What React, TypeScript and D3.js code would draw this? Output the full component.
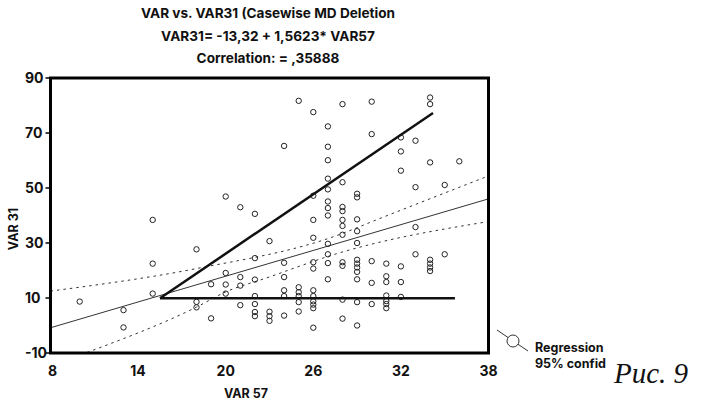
import React from "react";
import * as d3 from "d3";

// scatter points: [VAR57, VAR31]
const points: [number, number][] = [
  [10, 8.7], [13, 5.6], [13, -0.7],
  [15, 38.4], [15, 22.5], [15, 11.6],
  [18, 27.7], [18, 8.6], [18, 6.6],
  [19, 15], [19, 2.6],
  [20, 46.9], [20, 19.1], [20, 14.9], [20, 11.6],
  [21, 43.0], [21, 17.6], [21, 14.5], [21, 7.4],
  [22, 40.6], [22, 24.5], [22, 16.7], [22, 10.7], [22, 7.8], [22, 4.9], [22, 3.4],
  [23, 30.7], [23, 5.0], [23, 3.4], [23, 1.7],
  [24, 65.3], [24, 22.8], [24, 17.6], [24, 12.8], [24, 10.7], [24, 3.6],
  [25, 81.7], [25, 13.9], [25, 12.1], [25, 10.7], [25, 8.5], [25, 5.1],
  [26, 77.6], [26, 47.2], [26, 38.4], [26, 31.9], [26, 23.0], [26, 20.7], [26, 12.8],
  [26, 10.7], [26, 8.8], [26, 7.6], [26, 6.3], [26, -0.8],
  [27, 72.4], [27, 65.0], [27, 60.1], [27, 53.4], [27, 49.5], [27, 45.1], [27, 42.7],
  [27, 40.0], [27, 29.7], [27, 25.9], [27, 22.7], [27, 16.8],
  [28, 80.5], [28, 52.1], [28, 43.1], [28, 41.6], [28, 38.4], [28, 36.2], [28, 33.0],
  [28, 23.0], [28, 21.7], [28, 9.4], [28, 2.5],
  [29, 47.9], [29, 46.6], [29, 38.6], [29, 34.3], [29, 30.0], [29, 23.9], [29, 22.5],
  [29, 21.1], [29, 19.5], [29, 16.8], [29, 8.5], [29, 0.0],
  [30, 81.4], [30, 69.6], [30, 23.4], [30, 15.5], [30, 7.8],
  [31, 22.5], [31, 17.9], [31, 15.8], [31, 10.9], [31, 8.9], [31, 7.8], [31, 6.3],
  [32, 68.4], [32, 63.3], [32, 56.3], [32, 21.5], [32, 15.8], [32, 10.4],
  [33, 67.2], [33, 50.3], [33, 35.8], [33, 25.9],
  [34, 82.9], [34, 80.5], [34, 59.3], [34, 23.9], [34, 22.5], [34, 21.1], [34, 19.8],
  [35, 51.1], [35, 25.9],
  [36, 59.7],
];

// regression line VAR31 = -13,32 + 1,5623 * VAR57 (end points)
const regression: [number, number][] = [[8, -0.82], [38, 46.05]];

// 95% confidence bands
const upperBand: [number, number][] = [
  [8, 12.5], [18, 20.7], [27.6, 32.7], [30.5, 38.8], [38, 54.4],
];
const lowerBand: [number, number][] = [
  [10.5, -9.8], [18, 6.7], [20, 12.2], [22.8, 17.3], [27.6, 26.1], [38, 37.8],
];

// the two heavy hand-drawn strokes
const strokeUp: [number, number][] = [[15.5, 9.9], [34.2, 77.3]];
const strokeFlat: [number, number][] = [[15.5, 9.9], [35.7, 9.9]];

const xTicks = [8, 14, 20, 26, 32, 38];
const yTicks = [-10, 10, 30, 50, 70, 90];

const titleLines = [
  "VAR vs. VAR31 (Casewise MD Deletion",
  "VAR31= -13,32 + 1,5623* VAR57",
  "Correlation: = ,35888",
];

const W = 701;
const H = 403;
const font = "Inter, Roboto, 'Liberation Sans', sans-serif";

export default function App() {
  const x = d3.scaleLinear().domain([8, 38]).range([50.5, 488.5]);
  const y = d3.scaleLinear().domain([-10, 90]).range([353, 78]);

  const line = d3
    .line<[number, number]>()
    .x((d) => x(d[0]))
    .y((d) => y(d[1]));
  const curve = d3
    .line<[number, number]>()
    .x((d) => x(d[0]))
    .y((d) => y(d[1]))
    .curve(d3.curveMonotoneX);

  const [x0, x1] = x.range();
  const [y0, y1] = y.range();

  return (
    <div style={{ position: "absolute", left: 0, top: 0 }}>
      <svg width={W} height={H} style={{ display: "block", background: "#fff" }}>
        <defs>
          <clipPath id="plot">
            <rect x={x0} y={y1} width={x1 - x0} height={y0 - y1} />
          </clipPath>
        </defs>

        {titleLines.map((t, i) => (
          <text
            key={t}
            x={268}
            y={18 + i * 22.5}
            textAnchor="middle"
            fontFamily={font}
            fontWeight={700}
            fontSize={13.6}
            fill="#111"
          >
            {t}
          </text>
        ))}

        <g clipPath="url(#plot)">
          <path d={curve(upperBand) ?? ""} fill="none" stroke="#333" strokeWidth={1} strokeDasharray="2.5,4" />
          <path d={curve(lowerBand) ?? ""} fill="none" stroke="#333" strokeWidth={1} strokeDasharray="2.5,4" />
          <path d={line(regression) ?? ""} fill="none" stroke="#333" strokeWidth={1} />
          {points.map((p, i) => (
            <circle key={i} cx={x(p[0])} cy={y(p[1])} r={2.7} fill="none" stroke="#222" strokeWidth={1} />
          ))}
          <path d={line(strokeUp) ?? ""} fill="none" stroke="#111" strokeWidth={2.5} />
          <path d={line(strokeFlat) ?? ""} fill="none" stroke="#111" strokeWidth={2.5} />
        </g>

        <rect x={x0} y={y1} width={x1 - x0} height={y0 - y1} fill="none" stroke="#000" strokeWidth={3} />

        {yTicks.map((t) => (
          <g key={t}>
            <line x1={x0 - 5} x2={x0} y1={y(t)} y2={y(t)} stroke="#000" strokeWidth={1.5} />
            <text
              x={25}
              y={y(t)}
              dy="0.35em"
              textAnchor="start"
              fontFamily={font}
              fontWeight={700}
              fontSize={14}
              fill="#111"
            >
              {t}
            </text>
          </g>
        ))}
        {xTicks.map((t) => (
          <text
            key={t}
            x={x(t) + (t === 8 ? 2 : 0)}
            y={376}
            textAnchor="middle"
            fontFamily={font}
            fontWeight={700}
            fontSize={14}
            fill="#111"
          >
            {t}
          </text>
        ))}

        <text x={246} y={398} textAnchor="middle" fontFamily={font} fontWeight={700} fontSize={12.5} fill="#111">
          VAR 57
        </text>
        <text
          transform="translate(18,229) rotate(-90)"
          textAnchor="middle"
          fontFamily={font}
          fontWeight={700}
          fontSize={12.5}
          fill="#111"
        >
          VAR 31
        </text>

        {/* legend */}
        <line x1={497} y1={330} x2={528} y2={351} stroke="#333" strokeWidth={1} />
        <circle cx={513} cy={341} r={6} fill="#fff" stroke="#333" strokeWidth={1} />
        <text x={535} y={352} fontFamily={font} fontWeight={700} fontSize={12.5} fill="#111">
          Regression
        </text>
        <text x={535} y={368} fontFamily={font} fontWeight={700} fontSize={12.5} fill="#111">
          95% confid
        </text>

        <text
          x={614}
          y={383}
          fontFamily="'Liberation Serif', 'DejaVu Serif', serif"
          fontStyle="italic"
          fontSize={29}
          fill="#111"
        >
          Рис. 9
        </text>
      </svg>
    </div>
  );
}
